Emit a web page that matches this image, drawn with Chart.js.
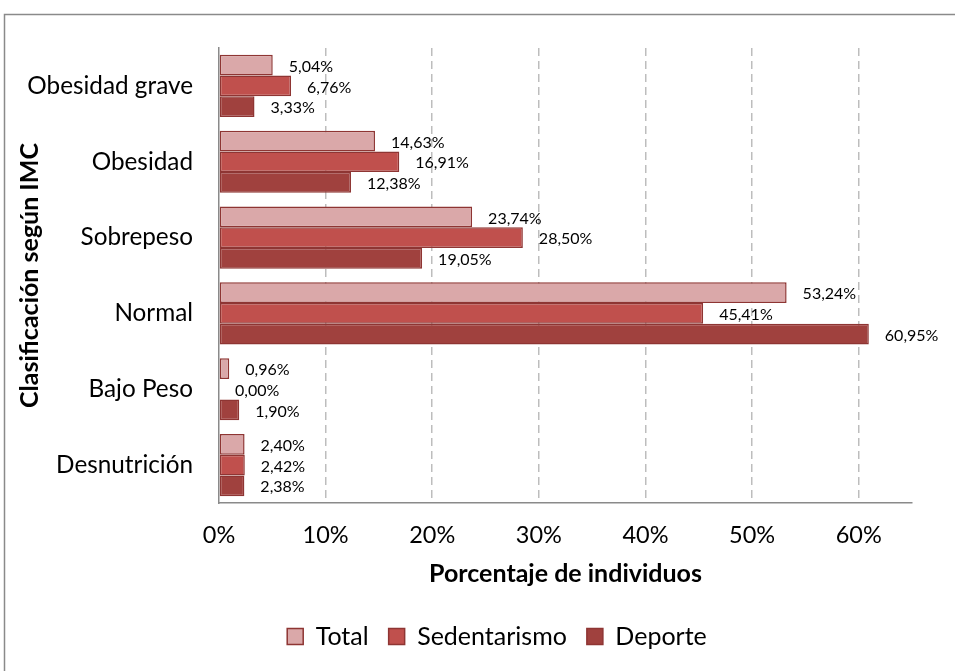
<!DOCTYPE html>
<html>
<head>
<meta charset="utf-8">
<script src="https://cdn.jsdelivr.net/npm/chart.js@4.4.1/dist/chart.umd.min.js"></script>
<style>
html,body{margin:0;padding:0;background:#fff;overflow:hidden;}
#wrap{width:955px;height:671px;position:relative;}
</style>
</head>
<body>
<div id="wrap"><canvas id="c" width="955" height="671"></canvas></div>
<script>
const categories = ['Obesidad grave', 'Obesidad', 'Sobrepeso', 'Normal', 'Bajo Peso', 'Desnutrición'];
const seriesNames = ['Total', 'Sedentarismo', 'Deporte'];
const totalValues = [5.04, 14.63, 23.74, 53.24, 0.96, 2.40];
const sedentarismoValues = [6.76, 16.91, 28.50, 45.41, 0.00, 2.42];
const deporteValues = [3.33, 12.38, 19.05, 60.95, 1.90, 2.38];
const xTickValues = [0, 10, 20, 30, 40, 50, 60];
const xTitle = 'Porcentaje de individuos';
const yTitle = 'Clasificación según IMC';

const FONT = 'Lato, "Open Sans", sans-serif';
const fillColors = ['#DAA8A9', '#C0504D', '#A0413E'];
const borderColor = '#8E3533';

const fmt = v => v.toFixed(2).replace('.', ',') + '%';

const framePlugin = {
  id: 'frame',
  beforeDraw(chart) {
    const ctx = chart.ctx;
    ctx.save();
    ctx.fillStyle = '#fff';
    ctx.fillRect(0, 0, chart.width, chart.height);
    ctx.strokeStyle = '#8A8A8A';
    ctx.lineWidth = 1.5;
    ctx.strokeRect(4.5, 14.5, 1100, 800);
    ctx.restore();
  }
};

const labelPlugin = {
  id: 'barLabels',
  afterDatasetsDraw(chart) {
    const ctx = chart.ctx;
    ctx.save();
    ctx.font = '16px ' + FONT;
    ctx.fillStyle = '#000';
    ctx.textAlign = 'left';
    ctx.textBaseline = 'middle';
    chart.data.datasets.forEach((ds, di) => {
      const meta = chart.getDatasetMeta(di);
      meta.data.forEach((bar, i) => {
        ctx.fillText(fmt(ds.data[i]), bar.x + 16, bar.y + 1.5);
      });
    });
    ctx.restore();
  }
};

const legendShift = {
  id: 'legendShift',
  afterLayout(chart) {
    if (chart.legend) {
      chart.legend.left += 37;
      chart.legend.right += 37;
    }
  }
};

const datasets = [totalValues, sedentarismoValues, deporteValues].map((vals, i) => ({
  label: seriesNames[i],
  data: vals,
  backgroundColor: fillColors[i],
  borderColor: borderColor,
  borderWidth: 1.5,
  borderSkipped: false,
  categoryPercentage: 0.82,
  barPercentage: 1.0
}));

new Chart(document.getElementById('c'), {
  type: 'bar',
  data: { labels: categories, datasets },
  plugins: [framePlugin, labelPlugin, legendShift],
  options: {
    indexAxis: 'y',
    responsive: false,
    animation: false,
    devicePixelRatio: 1,
    layout: { padding: { left: 8, right: 43, top: 48, bottom: 12 } },
    plugins: {
      tooltip: { enabled: false },
      legend: {
        position: 'bottom',
        labels: {
          boxWidth: 16,
          boxHeight: 16,
          padding: 20,
          color: '#000',
          font: { family: FONT, size: 25 }
        }
      }
    },
    scales: {
      x: {
        type: 'linear',
        min: 0,
        max: 65,
        afterBuildTicks(scale) {
          scale.ticks = xTickValues.map(v => ({ value: v }));
        },
        afterFit(scale) { scale.height = 101; },
        ticks: {
          padding: 18,
          color: '#000',
          font: { family: FONT, size: 23.5 },
          callback: v => v + '%'
        },
        grid: {
          display: true,
          drawTicks: false,
          color: ctx => (ctx.tick && ctx.tick.value === 0) ? 'rgba(0,0,0,0)' : '#BDBDBD',
          lineWidth: 1.5
        },
        border: { display: true, color: '#8A8A8A', width: 1.5, dash: [8, 5] },
        title: {
          display: true,
          text: xTitle,
          color: '#000',
          font: { family: FONT, size: 25, weight: 'bold' },
          padding: { top: 0, bottom: 15 }
        }
      },
      y: {
        afterFit(scale) { scale.width = 211; },
        ticks: {
          padding: 26,
          color: '#000',
          font: { family: FONT, size: 24.3 }
        },
        grid: { display: false, drawTicks: false },
        border: { display: true, color: '#8A8A8A', width: 1.5 },
        title: {
          display: true,
          text: yTitle,
          color: '#000',
          font: { family: FONT, size: 25, weight: 'bold' },
          padding: { top: 7, bottom: 0 }
        }
      }
    }
  }
});
</script>
</body>
</html>
